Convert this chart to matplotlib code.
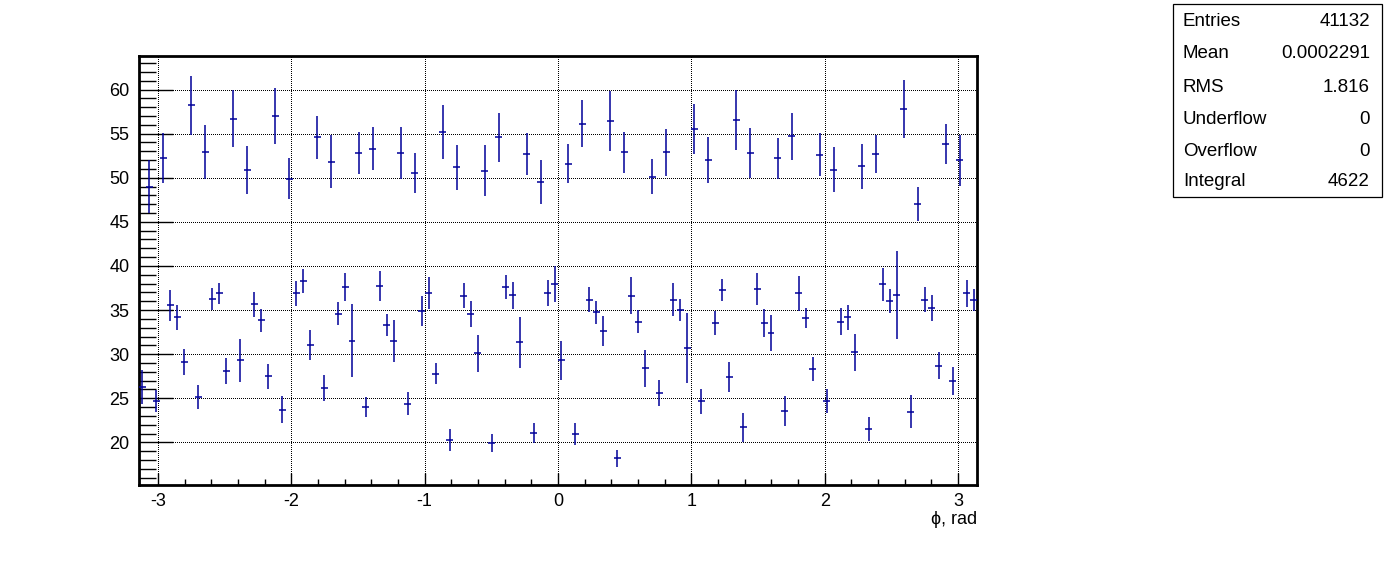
import numpy as np
import matplotlib
matplotlib.use("Agg")
import matplotlib.pyplot as plt
from matplotlib.patches import Rectangle
from matplotlib.ticker import MultipleLocator

plt.rcParams['font.family'] = ['Liberation Sans', 'DejaVu Sans']
plt.rcParams['axes.unicode_minus'] = False

# ---- data ----
x_min, x_max, n_bins = -np.pi, np.pi, 120
values = [26.3, 49.0, 24.7, 52.2, 35.55, 34.2, 29.1, 58.2, 25.1, 52.9, 36.3, 36.9, 28.05, 56.7, 29.3, 50.9, 35.66, 33.85, 27.5, 57.0, 23.7,
          49.9, 36.9, 38.3, 31.0, 54.6, 26.2, 51.8, 34.6, 37.6, 31.5, 52.8, 24.0, 53.3, 37.7, 33.3, 31.5, 52.8, 24.4, 50.5, 34.9, 36.9,
          27.8, 55.2, 20.3, 51.2, 36.6, 34.6, 30.1, 50.8, 19.9, 54.6, 37.6, 36.7, 31.35, 52.7, 21.1, 49.5, 36.9, 37.9, 29.3, 51.6,
          20.9, 56.1, 36.15, 34.75, 32.6, 56.4, 18.2, 52.9, 36.6, 33.7, 28.4, 50.1, 25.6, 52.9, 36.15, 35.0, 30.7, 55.5, 24.65, 52.0,
          33.5, 37.3, 27.4, 56.55, 21.7, 52.8, 37.4, 33.5, 32.4, 52.2, 23.6, 54.7, 36.9, 34.1, 28.3, 52.6, 24.65, 50.9, 33.7, 34.2,
          30.2, 51.3, 21.5, 52.7, 37.9, 36.0, 36.7, 57.8, 23.5, 47.0, 36.15, 35.2, 28.7, 53.8, 27.0, 52.0, 36.9, 36.15]
errors = [1.95, 2.99, 1.29, 2.82, 1.74, 1.42, 1.48, 3.35, 1.36, 3.03, 1.25, 1.19, 1.48, 3.22, 2.42, 2.73, 1.42, 1.31, 1.42, 3.12, 1.53,
          2.33, 1.42, 1.31, 1.70, 2.44, 1.48, 3.0, 1.31, 1.59, 4.14, 2.33, 1.12, 2.44, 1.70, 1.25, 2.38, 2.95, 1.31, 2.27, 1.70, 1.82,
          1.21, 3.05, 1.25, 2.55, 1.42, 1.48, 2.1, 2.88, 1.02, 2.78, 1.36, 1.53, 2.9, 2.38, 1.15, 2.5, 1.48, 2.04, 2.21, 2.21,
          1.25, 2.67, 1.42, 1.31, 1.70, 3.41, 0.97, 2.33, 2.1, 1.31, 2.1, 1.99, 1.42, 2.67, 1.87, 1.25, 3.97, 2.84, 1.42, 2.61,
          1.36, 1.25, 1.70, 3.41, 1.65, 2.84, 1.82, 1.59, 2.04, 2.33, 1.70, 2.67, 1.99, 1.14, 1.36, 2.44, 1.36, 2.55, 1.48, 1.42,
          2.1, 2.55, 1.36, 2.16, 1.87, 1.36, 4.94, 3.24, 1.87, 1.93, 1.42, 1.48, 1.53, 2.27, 1.59, 2.9, 1.53, 1.25]
stat_labels = ["Entries", "Mean", "RMS", "Underflow", "Overflow", "Integral"]
stat_values = ["41132", "0.0002291", "1.816", "0", "0", "4622"]
x_label = "\u03d5, rad"

edges = np.linspace(x_min, x_max, n_bins + 1)
centers = 0.5 * (edges[:-1] + edges[1:])
half_w = 0.5 * (edges[1] - edges[0])

W, H = 1396, 572
fig = plt.figure(figsize=(W / 100, H / 100), dpi=100)
ax = fig.add_axes([139 / W, 1 - 485 / H, (977 - 139) / W, (485 - 56) / H])

col = '#000099'
ax.errorbar(centers, values, yerr=errors, xerr=half_w, fmt='none',
            ecolor=col, elinewidth=1.1, capsize=0, zorder=3)

ax.set_xlim(x_min, x_max)
ax.set_ylim(15.17, 63.8)

ax.xaxis.set_major_locator(MultipleLocator(1))
ax.xaxis.set_minor_locator(MultipleLocator(0.2))
ax.yaxis.set_major_locator(MultipleLocator(5))
ax.yaxis.set_minor_locator(MultipleLocator(1))
ax.set_yticks(np.arange(20, 61, 5))

ax.grid(True, which='major', color='black', linewidth=0.72,
        linestyle=(0, (1, 2)), zorder=1)
for gl in ax.get_xgridlines() + ax.get_ygridlines():
    gl.set_antialiased(False)
ax.set_axisbelow(True)

ax.tick_params(axis='x', which='major', direction='in', length=8.6, width=1.0,
               labelsize=13, pad=6, top=False, bottom=True)
ax.tick_params(axis='x', which='minor', direction='in', length=4.3, width=1.0,
               top=False, bottom=True)
ax.tick_params(axis='y', which='major', direction='in', length=24.5, width=1.0,
               labelsize=13, pad=7, right=False, left=True)
ax.tick_params(axis='y', which='minor', direction='in', length=12.2, width=1.0,
               right=False, left=True)
for s in ax.spines.values():
    s.set_linewidth(2.0)

fig.text(977 / W, 1 - 520 / H, x_label, ha='right', va='center', fontsize=13)

# stats box
bx0, by0, bx1, by1 = 1173, 4, 1382, 197
fig.patches.append(Rectangle((bx0 / W, 1 - by1 / H), (bx1 - bx0) / W, (by1 - by0) / H,
                             transform=fig.transFigure, fill=True, facecolor='white',
                             edgecolor='black', linewidth=0.9))
row_y = [21, 54, 87, 119, 152, 181]
for lab, val, yy in zip(stat_labels, stat_values, row_y):
    fig.text(1183 / W, 1 - yy / H, lab, ha='left', va='center', fontsize=13.5)
    fig.text(1370 / W, 1 - yy / H, val, ha='right', va='center', fontsize=13.5)

fig.savefig("out.png", dpi=100)
